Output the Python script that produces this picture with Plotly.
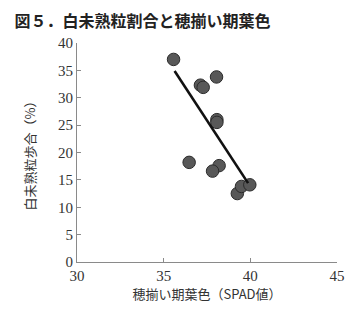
import plotly.graph_objects as go

# data
spad = [35.57, 37.12, 37.28, 38.05, 38.07, 38.07, 36.47, 38.2, 37.82, 39.25, 39.49, 39.97]
white_rate = [37.0, 32.3, 31.9, 33.8, 26.0, 25.5, 18.2, 17.6, 16.6, 12.5, 13.8, 14.1]
fit_x = [35.63, 39.87]
fit_y = [34.9, 14.4]
x_ticks = [30, 35, 40, 45]
y_ticks = [0, 5, 10, 15, 20, 25, 30, 35, 40]

title_text = "<b>図５．白未熟粒割合と穂揃い期葉色</b>"
x_title = "穂揃い期葉色（SPAD値）"
y_title = "白未熟粒歩合（%）"

jp = "Noto Sans CJK JP"
serif = "Liberation Serif"

fig = go.Figure()
fig.add_trace(go.Scatter(
    x=spad, y=white_rate, mode="markers",
    marker=dict(size=12.5, color="#585858", line=dict(color="#2b2b2b", width=1)),
    showlegend=False, hoverinfo="skip"))
fig.add_trace(go.Scatter(
    x=fit_x, y=fit_y, mode="lines",
    line=dict(color="#111111", width=2.6),
    showlegend=False, hoverinfo="skip"))

axis_common = dict(
    showline=True, linecolor="#8a8a8a", linewidth=1,
    ticks="inside", ticklen=4, tickcolor="#8a8a8a", tickwidth=1,
    showgrid=False, zeroline=False,
    tickfont=dict(family=serif, size=15, color="#333333"),
)

fig.update_layout(
    width=360, height=310,
    margin=dict(l=77, r=23, t=43, b=48),
    paper_bgcolor="white", plot_bgcolor="white",
    title=dict(text=title_text, x=0.04, xanchor="left", y=0.93, yanchor="middle",
               font=dict(family=jp, size=16, color="#222222")),
    xaxis=dict(range=[30, 45], tickvals=x_ticks,
               title=dict(text=x_title, standoff=0,
                          font=dict(family=jp, size=13, color="#333333")),
               **axis_common),
    yaxis=dict(range=[0, 40], tickvals=y_ticks,
               title=dict(text=y_title, standoff=19,
                          font=dict(family=jp, size=13, color="#333333")),
               **axis_common),
)

fig.write_html("out.html")
